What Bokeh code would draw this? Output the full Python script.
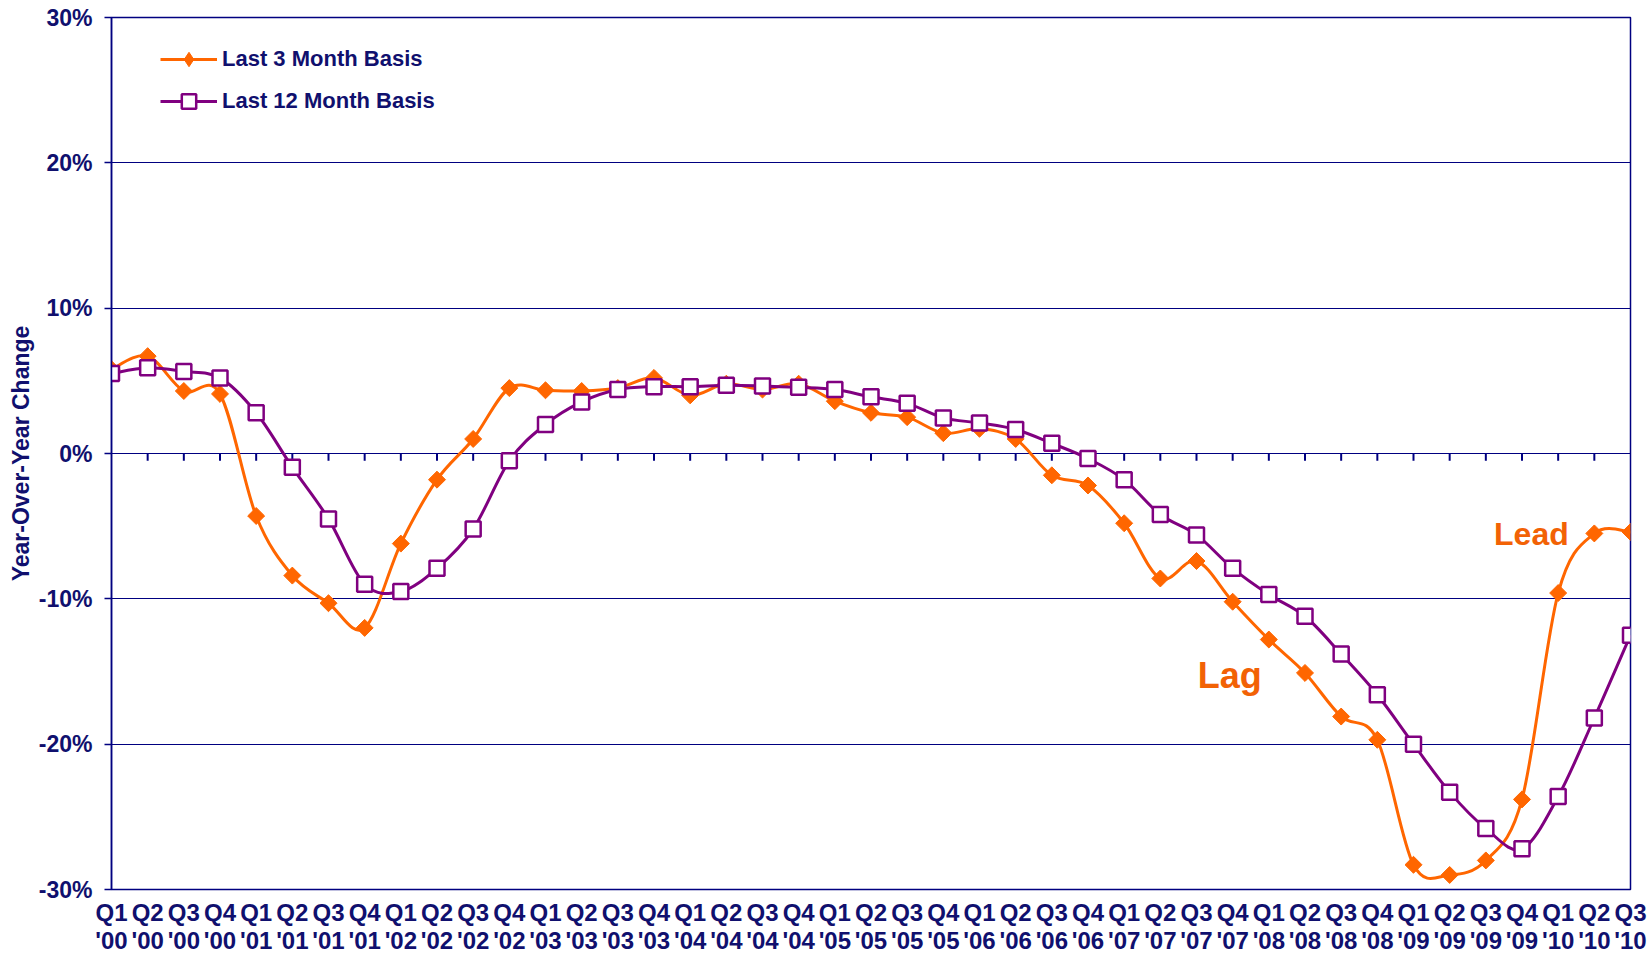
import numpy as np
from bokeh.plotting import figure
from bokeh.models import FixedTicker, Legend, LegendItem, Label, Range1d
from bokeh.embed import file_html
from bokeh.resources import INLINE

# ---------------- data ----------------
quarter_names = ["Q1", "Q2", "Q3", "Q4"]
years = ["'00", "'01", "'02", "'03", "'04", "'05", "'06", "'07", "'08", "'09", "'10"]
labels = [f"{q}\n{y}" for y in years for q in quarter_names][:43]

last3 = [5.8, 6.7, 4.3, 4.1, -4.3, -8.4, -10.3, -12.0, -6.2, -1.8,
         1.0, 4.5, 4.35, 4.3, 4.5, 5.2, 4.0, 4.8, 4.4, 4.8,
         3.6, 2.8, 2.5, 1.4, 1.7, 1.0, -1.5, -2.2, -4.8, -8.6,
         -7.4, -10.2, -12.8, -15.1, -18.1, -19.7, -28.3, -29.0, -28.0, -23.8,
         -9.6, -5.5, -5.4]
last12 = [5.5, 5.9, 5.65, 5.2, 2.8, -0.95, -4.5, -9.0, -9.5, -7.9,
          -5.2, -0.5, 2.0, 3.55, 4.4, 4.6, 4.6, 4.7, 4.65, 4.55,
          4.4, 3.9, 3.45, 2.45, 2.1, 1.65, 0.7, -0.35, -1.8, -4.2,
          -5.6, -7.9, -9.7, -11.2, -13.8, -16.6, -20.0, -23.3, -25.8, -27.2,
          -23.6, -18.2, -12.5]
series_names = ["Last 3 Month Basis", "Last 12 Month Basis"]
y_ticks = [-30, -20, -10, 0, 10, 20, 30]

NAVY = "#000080"
TEXT = "#10106e"
ORANGE = "#FF6600"
PURPLE = "#800080"
FONT = "Liberation Sans"

x = np.arange(len(labels), dtype=float)


def smooth_segments(xs, ys):
    """Control points for an Excel-like smoothed line (cubic Bezier per segment)."""
    xs = np.asarray(xs, float)
    ys = np.asarray(ys, float)
    n = len(xs)
    xp = np.concatenate([[xs[0]], xs, [xs[-1]]])
    yp = np.concatenate([[ys[0]], ys, [ys[-1]]])
    cx0 = xs[:-1] + (xp[2:n + 1] - xp[0:n - 1]) / 6.0
    cy0 = ys[:-1] + (yp[2:n + 1] - yp[0:n - 1]) / 6.0
    cx1 = xs[1:] - (xp[3:n + 2] - xp[1:n]) / 6.0
    cy1 = ys[1:] - (yp[3:n + 2] - yp[1:n]) / 6.0
    return dict(x0=xs[:-1], y0=ys[:-1], x1=xs[1:], y1=ys[1:],
                cx0=cx0, cy0=cy0, cx1=cx1, cy1=cy1)


p = figure(width=1650, height=957, output_backend="svg", toolbar_location=None,
           x_range=Range1d(0, len(labels) - 1), y_range=Range1d(-30, 30),
           min_border_left=111, min_border_right=20, min_border_top=17,
           min_border_bottom=68)
p.background_fill_color = "white"
p.border_fill_color = "white"
p.outline_line_color = NAVY
p.outline_line_width = 1.5

# grid
p.xgrid.visible = False
p.ygrid.ticker = FixedTicker(ticks=y_ticks)
p.ygrid.grid_line_color = NAVY
p.ygrid.grid_line_width = 1.2

# y axis
p.yaxis.ticker = FixedTicker(ticks=y_ticks)
p.yaxis.major_label_overrides = {t: f"{t}%" for t in y_ticks}
p.yaxis.major_label_text_font = FONT
p.yaxis.major_label_text_font_style = "bold"
p.yaxis.major_label_text_font_size = "23px"
p.yaxis.major_label_text_color = TEXT
p.yaxis.axis_line_color = NAVY
p.yaxis.axis_line_width = 1.5
p.yaxis.major_tick_line_color = NAVY
p.yaxis.major_tick_line_width = 1.5
p.yaxis.major_tick_out = 7
p.yaxis.major_tick_in = 0
p.yaxis.minor_tick_line_color = None
p.yaxis.major_label_standoff = 12
p.yaxis.axis_label = "Year-Over-Year Change"
p.yaxis.axis_label_text_font = FONT
p.yaxis.axis_label_text_font_style = "bold"
p.yaxis.axis_label_text_font_size = "23px"
p.yaxis.axis_label_text_color = TEXT
p.yaxis.axis_label_standoff = 2

# x axis (labels at the bottom, category axis line at 0%)
p.xaxis.ticker = FixedTicker(ticks=list(x))
p.xaxis.major_label_overrides = {float(i): lab for i, lab in enumerate(labels)}
p.xaxis.major_label_text_font = FONT
p.xaxis.major_label_text_font_style = "bold"
p.xaxis.major_label_text_font_size = "24px"
p.xaxis.major_label_text_color = TEXT
p.xaxis.major_label_text_line_height = 1.05
p.xaxis.axis_line_color = None
p.xaxis.major_tick_line_color = None
p.xaxis.minor_tick_line_color = None
p.xaxis.major_tick_out = 0
p.xaxis.major_tick_in = 0
p.xaxis.major_label_standoff = 9

# tick marks hanging from the 0% category axis
p.segment(x0=x[1:-1], y0=np.zeros(len(x) - 2), x1=x[1:-1], y1=np.full(len(x) - 2, -0.5),
          line_color=NAVY, line_width=2)

# series
s3 = smooth_segments(x, last3)
r3_line = p.bezier(line_color=ORANGE, line_width=3, **s3)
r3_pts = p.scatter(x, last3, marker="square", angle=np.pi / 4, size=12,
                   fill_color=ORANGE, line_color=ORANGE, line_width=1)

s12 = smooth_segments(x, last12)
r12_line = p.bezier(line_color=PURPLE, line_width=3, **s12)
r12_pts = p.scatter(x, last12, marker="square", size=15,
                    fill_color="white", line_color=PURPLE, line_width=2.5)

# legend-only diamond swatch (no data position)
r3_key = p.scatter(x=[np.nan], y=[np.nan], marker="diamond", size=24,
                   fill_color=ORANGE, line_color=ORANGE)

legend = Legend(items=[LegendItem(label=series_names[0], renderers=[r3_line, r3_key]),
                       LegendItem(label=series_names[1], renderers=[r12_line, r12_pts])],
                location=(49, 770))
legend.label_text_font = FONT
legend.label_text_font_style = "bold"
legend.label_text_font_size = "22px"
legend.label_text_color = TEXT
legend.border_line_color = None
legend.background_fill_alpha = 0
legend.glyph_width = 57
legend.glyph_height = 36
legend.label_height = 36
legend.spacing = 6
legend.padding = 0
legend.margin = 0
legend.label_standoff = 5
p.add_layout(legend, "center")

p.add_layout(Label(x=39.26, y=-5.57, text="Lead", text_align="center",
                   text_baseline="middle", text_font=FONT, text_font_style="bold",
                   text_font_size="32px", text_color="#F26205"))
p.add_layout(Label(x=30.92, y=-15.28, text="Lag", text_align="center",
                   text_baseline="middle", text_font=FONT, text_font_style="bold",
                   text_font_size="36px", text_color="#F26205"))

open("out.html", "w").write(file_html(p, INLINE))
